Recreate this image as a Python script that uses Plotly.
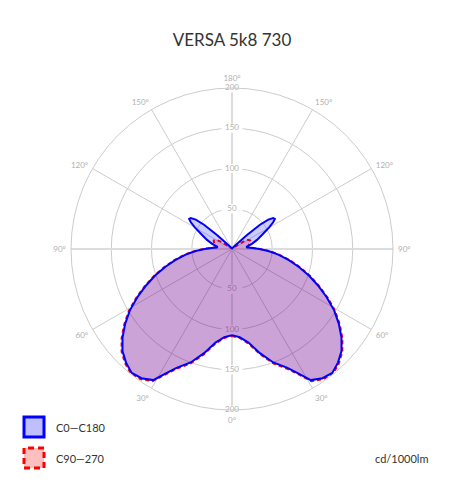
import plotly.graph_objects as go

# ---- data (cd/1000lm) ----
gamma = [0, 5, 10, 15, 20, 25, 28, 31, 35, 39, 43, 47, 51, 55, 59, 63, 67, 71, 75, 79,
         83, 86, 88, 90, 92, 94, 96, 98, 100, 105, 110, 115, 120, 123, 125, 127, 129,
         131, 133, 135, 140, 150, 165, 180]
i_c0 = [107, 110, 118, 134, 150, 163, 175, 190, 196, 198, 193, 186, 175, 162, 148, 132,
        116, 101, 86, 72, 58, 48, 41, 34, 28, 23, 19, 18, 20, 26, 33, 41, 53, 61, 65,
        64, 58, 46, 25, 10, 4, 2, 1, 0]
i_c180 = list(i_c0)
i_c90 = [108, 111, 119.5, 135.5, 151.5, 164.5, 176.5, 191.5, 197.5, 199.5, 194.5, 187.5,
         176.5, 163.5, 149.5, 133.5, 117.5, 102.5, 87.5, 73.5, 59.5, 49.5, 42, 35, 29,
         24, 20.5, 20, 20.5, 22, 24, 25, 23, 17, 10, 6, 4, 3, 2.5, 2, 2, 1.5, 1, 0]
i_c270 = list(i_c90)

angle_ticks = [0, 30, 60, 90, 120, 150, 180, 210, 240, 270, 300, 330]
angle_text = ["0°", "30°", "60°", "90°", "120°", "150°", "180°",
              "150°", "120°", "90°", "60°", "30°"]
radial_ticks = [50, 100, 150, 200]
radial_text = ["50", "100", "150", "200"]

title = "VERSA 5k8 730"
series_names = ["C0—C180", "C90—270"]
unit_label = "cd/1000lm"

W, H = 460, 491
OFF = 8  # page body margin


def px(x):
    return (x - OFF) / W


def py(y):
    return 1 - (y - OFF) / H


def loop(right, left):
    th = list(gamma) + [360 - g for g in reversed(gamma)]
    rr = list(right) + list(reversed(left))
    return th, rr


fig = go.Figure()

# thicker main axes (0-180 and 90-270)
fig.add_trace(go.Scatterpolar(r=[200, 0, 200], theta=[0, 0, 180], mode="lines",
                              line=dict(color="#dcdcdc", width=2), hoverinfo="skip",
                              showlegend=False))
fig.add_trace(go.Scatterpolar(r=[200, 0, 200], theta=[90, 90, 270], mode="lines",
                              line=dict(color="#dcdcdc", width=2), hoverinfo="skip",
                              showlegend=False))

# radial labels along vertical axis (top and bottom)
fig.add_trace(go.Scatterpolar(
    r=radial_ticks + radial_ticks,
    theta=[180] * len(radial_ticks) + [0] * len(radial_ticks),
    mode="markers+text",
    text=radial_text + radial_text,
    textposition="middle center",
    textfont=dict(family="Lato", size=8, color="#b0b0b0"),
    marker=dict(symbol="line-ew", size=15, color="white",
                line=dict(color="white", width=9)),
    hoverinfo="skip", showlegend=False))

th90, r90 = loop(i_c90, i_c270)
fig.add_trace(go.Scatterpolar(r=r90, theta=th90, mode="lines", fill="toself",
                              fillcolor="rgba(255,0,0,0.2)",
                              line=dict(color="#ff0000", width=2, dash="4px,3px"),
                              name=series_names[1], showlegend=False))
th0, r0 = loop(i_c0, i_c180)
fig.add_trace(go.Scatterpolar(r=r0, theta=th0, mode="lines", fill="toself",
                              fillcolor="rgba(0,0,255,0.2)",
                              line=dict(color="#0000ff", width=2),
                              name=series_names[0], showlegend=False))

cx0, cx1 = 71, 393
cy0, cy1 = 88, 410

fig.update_layout(
    width=W, height=H,
    margin=dict(l=0, r=0, t=0, b=0),
    paper_bgcolor="white",
    font=dict(family="Lato", color="#333"),
    title=dict(text=title, x=px(232), xanchor="center", y=py(40), yanchor="middle",
               font=dict(family="Lato", size=17, color="#333")),
    polar=dict(
        domain=dict(x=[px(cx0), px(cx1)], y=[py(cy1), py(cy0)]),
        bgcolor="white",
        angularaxis=dict(rotation=270, direction="counterclockwise",
                         tickmode="array", tickvals=angle_ticks, ticktext=angle_text,
                         tickfont=dict(family="Lato", size=8, color="#b0b0b0"),
                         ticks="outside", ticklen=3, tickcolor="rgba(0,0,0,0)",
                         showline=True, linecolor="#cccccc", linewidth=1,
                         gridcolor="#cccccc", gridwidth=1),
        radialaxis=dict(range=[0, 200], tickvals=radial_ticks, showticklabels=False,
                        showline=False, gridcolor="#cccccc", gridwidth=1, ticks=""),
    ),
)

# legend drawn manually
fig.add_shape(type="rect", xref="paper", yref="paper",
              x0=px(24), x1=px(44), y0=py(437), y1=py(417),
              line=dict(color="#0000ff", width=3), fillcolor="rgba(0,0,255,0.25)")
fig.add_shape(type="rect", xref="paper", yref="paper",
              x0=px(24), x1=px(44), y0=py(468), y1=py(448),
              line=dict(color="#ff0000", width=3, dash="6px,4px"),
              fillcolor="rgba(255,0,0,0.25)")
fig.add_annotation(xref="paper", yref="paper", x=px(54), y=py(427), xanchor="left",
                   yanchor="middle", text=series_names[0], showarrow=False,
                   font=dict(family="Lato", size=11, color="#333"))
fig.add_annotation(xref="paper", yref="paper", x=px(54), y=py(458), xanchor="left",
                   yanchor="middle", text=series_names[1], showarrow=False,
                   font=dict(family="Lato", size=11, color="#333"))
fig.add_annotation(xref="paper", yref="paper", x=px(430), y=py(458), xanchor="right",
                   yanchor="middle", text=unit_label, showarrow=False,
                   font=dict(family="Lato", size=11, color="#333"))

fig.write_html("out.html")
